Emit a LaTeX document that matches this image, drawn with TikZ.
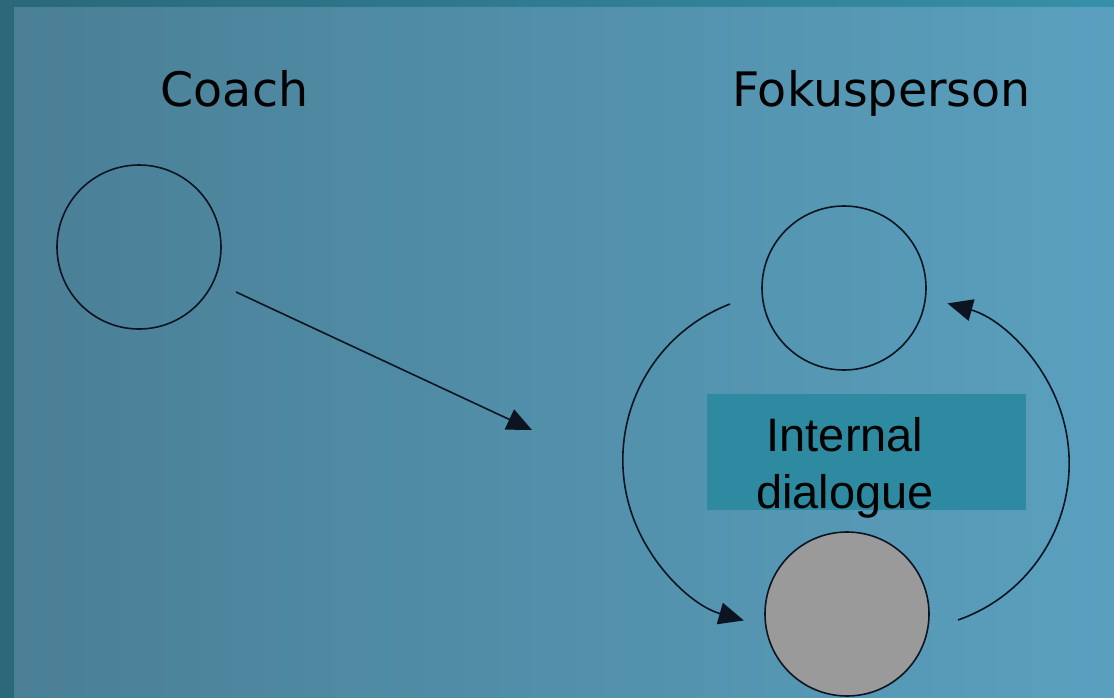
\documentclass[tikz,border=0pt]{standalone}
\usepackage{fontspec}
\usetikzlibrary{arrows.meta}
\newfontfamily\headfont{DejaVu Sans}
\newfontfamily\boxfont{Liberation Sans}
\definecolor{frameteal}{HTML}{2A687A}
\definecolor{frametealR}{HTML}{3590A8}
\definecolor{bgleft}{HTML}{4A7F96}
\definecolor{bgright}{HTML}{5AA0BE}
\definecolor{boxteal}{HTML}{2E8AA1}
\definecolor{ink}{HTML}{0B1420}
\definecolor{headgray}{HTML}{9A9A9A}
\tikzset{
  person/.style={circle, draw=ink, line width=1.6pt, minimum size=164pt, inner sep=0pt},
  flow/.style={draw=ink, line width=1.6pt, -{Triangle[length=25pt,width=22pt]}},
  heading/.style={font=\headfont\fontsize{47.5}{56}\selectfont, text=black, anchor=base, inner sep=0pt},
  label/.style={font=\boxfont\fontsize{47}{57}\selectfont, text=black, align=center, inner sep=0pt},
}
\begin{document}
\begin{tikzpicture}[x=1pt, y=-1pt]
  % backdrop: dark frame strips and the shaded panel
  \useasboundingbox (0,0) rectangle (1114,698);
  \fill[frameteal] (0,0) rectangle (1114,698);
  \shade[left color=frameteal, right color=frametealR] (0,0) rectangle (1114,8);
  \shade[shading angle=80, left color=bgleft, right color=bgright] (14,8) rectangle (1114,698);

  % headings
  \node[heading] (coachlabel) at (234.5,107) {Coach};
  \node[heading] (focuslabel) at (881.5,107) {Fokusperson};

  % persons
  \node[person] (coach) at (139,247) {};
  \node[person] (self) at (844,288) {};
  \node[person, fill=headgray] (inner) at (847,614) {};

  % internal dialogue label
  \node[fill=boxteal, minimum width=319pt, minimum height=116pt, inner sep=0pt] (box) at (866.5,452) {};
  \node[label, anchor=base] (dialog) at (845,508) {Internal\\dialogue};

  % influence of the coach
  \coordinate (cstart) at (236,292);
  \coordinate (cend) at (532,430);
  \draw[flow] (cstart) -- (cend);

  % loop between the two inner parts
  \coordinate (lstart) at (730,304);
  \coordinate (rstart) at (958,620);
  \draw[flow] (lstart) arc[start angle=249, end angle=106, radius=167];
  \draw[flow] (rstart) arc[start angle=70.7, end angle=-74.5, radius=166];
\end{tikzpicture}
\end{document}
